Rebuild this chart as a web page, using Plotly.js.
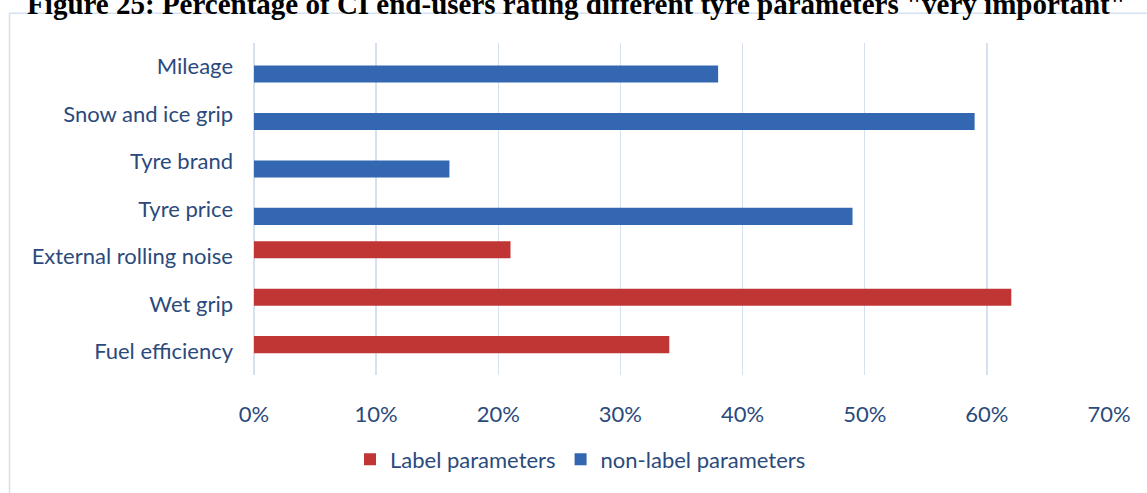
<!DOCTYPE html>
<html>
<head>
<meta charset="utf-8">
<script src="https://cdn.plot.ly/plotly-3.0.1.min.js"></script>
<style>html,body{margin:0;padding:0;background:#fff;}#chart{width:1147px;height:493px;}</style>
</head>
<body>
<div id="chart"></div>
<script>
// Categories, bottom to top
const categories = ["Fuel efficiency", "Wet grip", "External rolling noise", "Tyre price", "Tyre brand", "Snow and ice grip", "Mileage"];
const labelCategories = ["Fuel efficiency", "Wet grip", "External rolling noise"];
const labelValues = [0.34, 0.62, 0.21];
const nonLabelCategories = ["Tyre price", "Tyre brand", "Snow and ice grip", "Mileage"];
const nonLabelValues = [0.49, 0.16, 0.59, 0.38];
const xTickValues = [0, 0.1, 0.2, 0.3, 0.4, 0.5, 0.6, 0.7];
const xTickLabels = ["0%", "10%", "20%", "30%", "40%", "50%", "60%", "70%"];
const seriesNames = ["Label parameters", "non-label parameters"];
const titleText = 'Figure 25: Percentage of CI end-users rating different tyre parameters "very important"';

const W = 1147, H = 493;
const m = {l: 254, r: 38, t: 43, b: 116};
const pw = W - m.l - m.r, ph = H - m.t - m.b;
const px = v => (v - m.l) / pw;
const py = v => (H - m.b - v) / ph;

const textColor = '#2b4a7c';
const font = {family: 'Lato, "Open Sans", sans-serif', size: 22, color: textColor};

const traces = [
  {
    type: 'bar', orientation: 'h', name: seriesNames[1],
    y: nonLabelCategories, x: nonLabelValues,
    width: 0.36, offset: -0.335,
    marker: {color: '#3467b1', line: {width: 0}},
    hoverinfo: 'skip'
  },
  {
    type: 'bar', orientation: 'h', name: seriesNames[0],
    y: labelCategories, x: labelValues,
    width: 0.36, offset: -0.04,
    marker: {color: '#bf3634', line: {width: 0}},
    hoverinfo: 'skip'
  }
];

const layout = {
  width: W, height: H,
  margin: m,
  paper_bgcolor: '#ffffff', plot_bgcolor: '#ffffff',
  barmode: 'overlay',
  showlegend: true,
  font: font,
  title: {
    text: titleText,
    font: {family: '"Liberation Serif", "Times New Roman", serif', size: 29, color: '#000', weight: 'bold'},
    xref: 'paper', x: px(576.5), xanchor: 'center',
    yref: 'container', y: 1 - 4/H, yanchor: 'middle'
  },
  xaxis: {
    range: [0, 0.7],
    tickvals: xTickValues, ticktext: xTickLabels,
    showgrid: true, gridcolor: '#d5e1ef', gridwidth: 1.5,
    zeroline: true, zerolinecolor: '#d5e1ef', zerolinewidth: 1.5,
    showline: false, ticks: '',
    ticklabelstandoff: 24,
    tickfont: font, fixedrange: true
  },
  yaxis: {
    type: 'category',
    categoryorder: 'array', categoryarray: categories,
    range: [-0.5, categories.length - 0.5],
    showgrid: false, zeroline: false, showline: false, ticks: '',
    ticklabelstandoff: 20,
    tickfont: font, fixedrange: true
  },
  legend: {
    orientation: 'h', traceorder: 'reversed',
    x: px(350), xanchor: 'left',
    y: py(462), yanchor: 'middle',
    font: font, itemwidth: 30,
    bgcolor: 'rgba(0,0,0,0)'
  },
  shapes: [
    {type: 'rect', xref: 'paper', yref: 'paper', layer: 'below',
     x0: px(9.5), x1: px(1150), y0: py(500), y1: py(13),
     line: {color: '#d5e1ef', width: 1.5}, fillcolor: 'rgba(0,0,0,0)'}
  ]
};

Plotly.newPlot('chart', traces, layout, {displayModeBar: false, staticPlot: true});
</script>
</body>
</html>
